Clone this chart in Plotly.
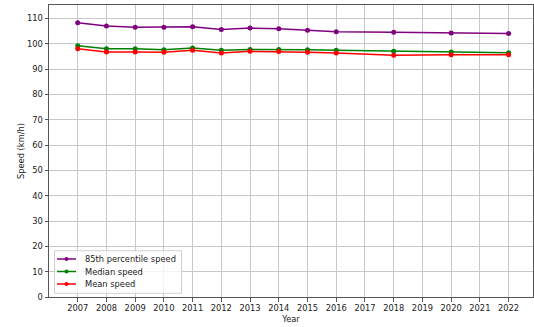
import plotly.graph_objects as go

years = [2007, 2008, 2009, 2010, 2011, 2012, 2013, 2014, 2015, 2016, 2018, 2020, 2022]
p85 = [108.3, 107.0, 106.5, 106.5, 106.7, 105.6, 106.2, 105.9, 105.3, 104.7, 104.5, 104.2, 104.0]
median = [99.2, 98.0, 98.0, 97.6, 98.3, 97.4, 97.7, 97.7, 97.6, 97.4, 97.0, 96.7, 96.4]
mean = [98.0, 96.7, 96.7, 96.6, 97.4, 96.3, 97.0, 96.9, 96.6, 96.3, 95.5, 95.7, 95.7]
series_names = ["85th percentile speed", "Median speed", "Mean speed"]
series_colors = ["purple", "green", "red"]
tick_years = list(range(2007, 2023))

W, H = 534, 327
ML, MR, MT, MB = 49, 1, 5, 30
PW, PH = W - ML - MR, H - MT - MB

def px(x):
    return (x - ML) / PW

def py(y):
    return (H - MB - y) / PH

fig = go.Figure()
for name, vals, col in zip(series_names, [p85, median, mean], series_colors):
    fig.add_trace(go.Scatter(x=years, y=vals, name=name, mode="lines+markers",
                             line=dict(color=col, width=1.5),
                             marker=dict(color=col, size=5), showlegend=False))

# compact legend (matplotlib style)
shapes = [dict(type="rect", xref="paper", yref="paper",
               x0=px(54.5), x1=px(181.5), y0=py(293.3), y1=py(250.7),
               line=dict(color="#d0d0d0", width=1), fillcolor="rgba(255,255,255,0.8)",
               layer="above")]
annotations = []
row_y = [259, 271.5, 284]
for name, col, ry in zip(series_names, series_colors, row_y):
    shapes.append(dict(type="line", xref="paper", yref="paper",
                       x0=px(57), x1=px(76), y0=py(ry), y1=py(ry),
                       line=dict(color=col, width=1.5), layer="above"))
    shapes.append(dict(type="circle", xref="paper", yref="paper",
                       x0=px(64.5), x1=px(68.5), y0=py(ry + 2), y1=py(ry - 2),
                       line=dict(color=col, width=0), fillcolor=col, layer="above"))
    annotations.append(dict(text=name, xref="paper", yref="paper",
                            x=px(82.5), y=py(ry), xanchor="left", yanchor="middle",
                            showarrow=False, font=dict(size=8.3, color="#222")))

fig.update_layout(
    width=W, height=H,
    margin=dict(l=ML, r=MR, t=MT, b=MB),
    paper_bgcolor="white", plot_bgcolor="white",
    font=dict(family="DejaVu Sans", size=8.3, color="#222"),
    showlegend=False,
    shapes=shapes, annotations=annotations,
)
fig.update_xaxes(range=[2006, 2022.85], tickmode="array", tickvals=tick_years,
                 ticktext=[str(y) for y in tick_years], automargin=False,
                 showgrid=True, gridcolor="#c8c8c8", gridwidth=1,
                 showline=True, linecolor="#555", linewidth=1, mirror=True,
                 ticks="outside", ticklen=3.5, tickcolor="#555",
                 title=dict(text="Year", font=dict(size=8.3), standoff=3))
fig.update_yaxes(range=[0, 115.3], tickmode="array", tickvals=list(range(0, 111, 10)),
                 showgrid=True, gridcolor="#c8c8c8", gridwidth=1, automargin=False,
                 showline=True, linecolor="#555", linewidth=1, mirror=True,
                 ticks="outside", ticklen=3.5, tickcolor="#555", zeroline=False,
                 title=dict(text="Speed (km/h)", font=dict(size=8.3), standoff=1))

fig.write_html("out.html", config={"displayModeBar": False},
               post_script="document.body.style.margin='0';document.body.style.overflow='hidden';")
